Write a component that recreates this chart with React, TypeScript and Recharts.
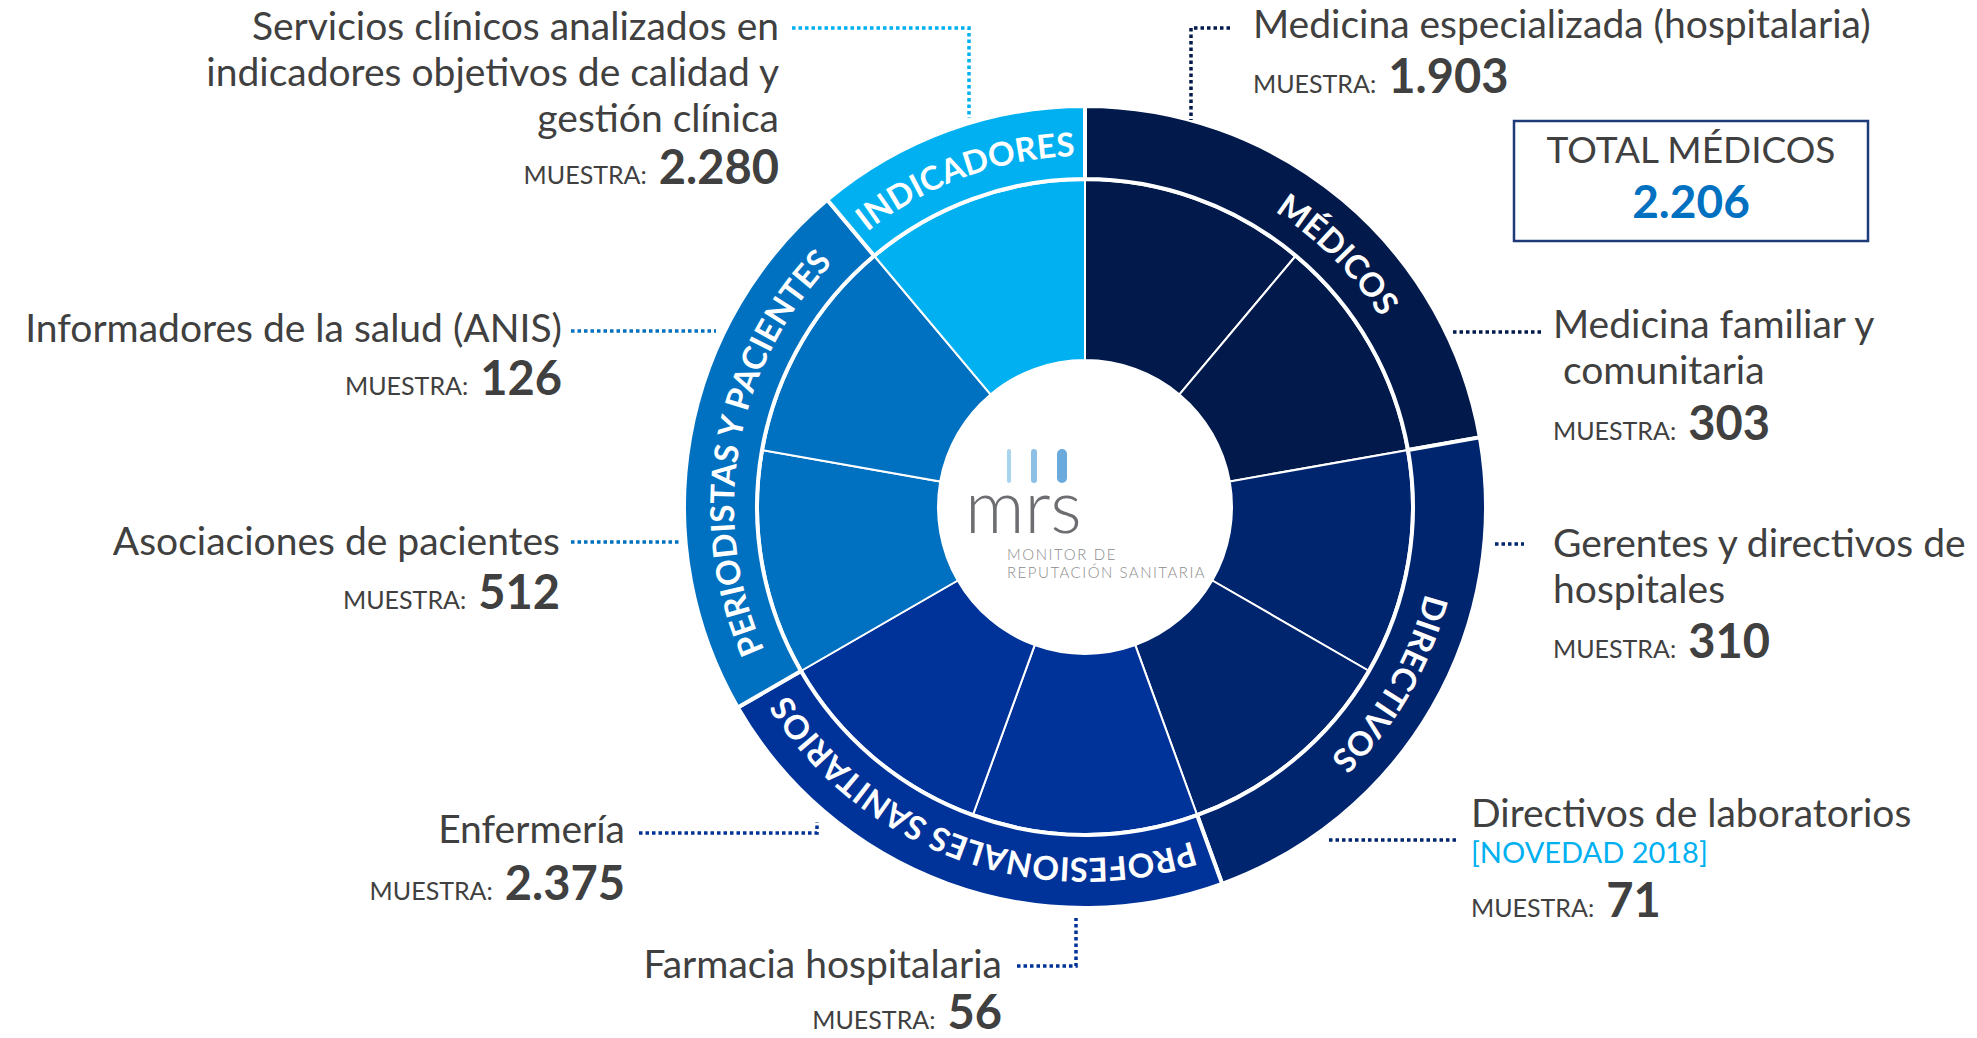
import React from 'react';
import { PieChart, Pie, Cell } from 'recharts';

// inner ring: one equal sector per surveyed group, clockwise from 12 o'clock
const segmentNames = [
  'Medicina especializada (hospitalaria)',
  'Medicina familiar y\n comunitaria',
  'Gerentes y directivos de\nhospitales',
  'Directivos de laboratorios',
  'Farmacia hospitalaria',
  'Enfermería',
  'Asociaciones de pacientes',
  'Informadores de la salud (ANIS)',
  'Servicios clínicos analizados en\nindicadores objetivos de calidad y\ngestión clínica',
];
const segmentGroups = [
  'MÉDICOS', 'MÉDICOS', 'DIRECTIVOS', 'DIRECTIVOS',
  'PROFESIONALES SANITARIOS', 'PROFESIONALES SANITARIOS',
  'PERIODISTAS Y PACIENTES', 'PERIODISTAS Y PACIENTES', 'INDICADORES',
];
const segmentSamples = [1903, 303, 310, 71, 56, 2375, 512, 126, 2280];
const segmentNotes = ['', '', '', '[NOVEDAD 2018]', '', '', '', '', ''];

// outer ring
const groupNames = ['MÉDICOS', 'DIRECTIVOS', 'PROFESIONALES SANITARIOS', 'PERIODISTAS Y PACIENTES', 'INDICADORES'];

const sampleLabel = 'MUESTRA:';
const totalGroup = 'MÉDICOS';
const totalLabel = 'TOTAL MÉDICOS';

const groupColors: Record<string, string> = {
  'MÉDICOS': '#021a4b',
  'DIRECTIVOS': '#00256f',
  'PROFESIONALES SANITARIOS': '#003399',
  'PERIODISTAS Y PACIENTES': '#0070c0',
  'INDICADORES': '#00b0f0',
};
const groupLabelShift: Record<string, number> = { 'MÉDICOS': -5 };

// where each callout sits on the page
type Callout = { anchor: 'start' | 'end'; x: number; y: number; sampleY: number; noteY?: number; leader: number[][] };
const callouts: Callout[] = [
  { anchor: 'start', x: 1253, y: 38, sampleY: 93, leader: [[1230, 28], [1191, 28], [1191, 120]] },
  { anchor: 'start', x: 1553, y: 338, sampleY: 440, leader: [[1453, 332], [1543, 332]] },
  { anchor: 'start', x: 1553, y: 557, sampleY: 658, leader: [[1495, 544], [1524, 544]] },
  { anchor: 'start', x: 1471, y: 827, noteY: 863, sampleY: 917, leader: [[1329, 840], [1459, 840]] },
  { anchor: 'end', x: 1002, y: 978, sampleY: 1029, leader: [[1017, 966], [1076, 966], [1076, 918]] },
  { anchor: 'end', x: 625, y: 843, sampleY: 900, leader: [[639, 833], [817, 833], [817, 822]] },
  { anchor: 'end', x: 560, y: 555, sampleY: 609, leader: [[571, 542], [679, 542]] },
  { anchor: 'end', x: 562, y: 342, sampleY: 395, leader: [[571, 331], [716, 331]] },
  { anchor: 'end', x: 779, y: 40, sampleY: 184, leader: [[792, 28], [969, 28], [969, 118]] },
];

const W = 1977;
const H = 1038;
const CX = 1085;
const CY = 507;
const FONT = 'Lato, "Open Sans", sans-serif';
const TEXT = '#404040';
const RAD = Math.PI / 180;

const fmt = (n: number) => String(n).replace(/\B(?=(\d{3})+(?!\d))/g, '.');

const segmentData = segmentNames.map((name, i) => ({
  name,
  group: segmentGroups[i],
  sample: segmentSamples[i],
  weight: 1,
}));
const groupData = groupNames.map((name) => ({
  name,
  weight: segmentGroups.filter((g) => g === name).length,
}));
const totalValue = segmentSamples.reduce((s, v, i) => (segmentGroups[i] === totalGroup ? s + v : s), 0);

function renderCallout(props: any) {
  const i: number = props.index ?? segmentNames.indexOf(props.name);
  const c = callouts[i];
  if (!c) return null;
  const lines = segmentNames[i].split('\n');
  const color = groupColors[segmentGroups[i]];
  return (
    <g key={`callout-${i}`}>
      <polyline
        points={c.leader.map((p) => p.join(',')).join(' ')}
        fill="none"
        stroke={color}
        strokeWidth={3.5}
        strokeDasharray="3.5 3"
      />
      {lines.map((line, k) => (
        <text key={k} x={c.x} y={c.y + k * 46} textAnchor={c.anchor} fontFamily={FONT} fontSize={39} fill={TEXT} style={{ whiteSpace: 'pre' }}>
          {line}
        </text>
      ))}
      {segmentNotes[i] && (
        <text x={c.x} y={c.noteY} textAnchor={c.anchor} fontFamily={FONT} fontSize={29} fill="#00b0f0">
          {segmentNotes[i]}
        </text>
      )}
      <text x={c.x} y={c.sampleY} textAnchor={c.anchor} fontFamily={FONT} fill={TEXT}>
        <tspan fontSize={25}>{sampleLabel}</tspan>
        <tspan dx={12} fontSize={47} fontWeight={700}>{fmt(segmentSamples[i])}</tspan>
      </text>
    </g>
  );
}

function renderGroupLabel(props: any) {
  const { cx, cy, midAngle } = props;
  const i: number = props.index ?? groupNames.indexOf(props.name);
  const name = groupNames[i];
  const mid = midAngle + (groupLabelShift[name] ?? 0);
  const r = 351;
  const pt = (a: number) => [cx + r * Math.cos(a * RAD), cy - r * Math.sin(a * RAD)];
  const [x1, y1] = pt(mid + 90);
  const [x2, y2] = pt(mid - 90);
  const id = `group-arc-${i}`;
  return (
    <g key={id}>
      <path id={id} d={`M${x1},${y1} A${r},${r} 0 0 1 ${x2},${y2}`} fill="none" stroke="none" />
      <text fill="#ffffff" fontFamily={FONT} fontSize={33} fontWeight={700} textAnchor="middle">
        <textPath href={`#${id}`} startOffset="50%">
          {name}
        </textPath>
      </text>
    </g>
  );
}

export default function App() {
  return (
    <div style={{ position: 'absolute', left: 0, top: 0, width: W, height: H, background: '#fff' }}>
      <PieChart width={W} height={H} margin={{ top: 0, right: 0, bottom: 0, left: 0 }}>
        <Pie
          data={segmentData}
          dataKey="weight"
          nameKey="name"
          cx={CX}
          cy={CY}
          startAngle={90}
          endAngle={-270}
          innerRadius={147}
          outerRadius={327}
          stroke="#ffffff"
          strokeWidth={2}
          label={renderCallout}
          labelLine={false}
          isAnimationActive={false}
        >
          {segmentData.map((d, i) => (
            <Cell key={i} fill={groupColors[d.group]} />
          ))}
        </Pie>
        <Pie
          data={groupData}
          dataKey="weight"
          nameKey="name"
          cx={CX}
          cy={CY}
          startAngle={90}
          endAngle={-270}
          innerRadius={328}
          outerRadius={401}
          stroke="#ffffff"
          strokeWidth={4}
          label={renderGroupLabel}
          labelLine={false}
          isAnimationActive={false}
        >
          {groupData.map((d, i) => (
            <Cell key={i} fill={groupColors[d.name]} />
          ))}
        </Pie>
      </PieChart>

      <svg width={W} height={H} style={{ position: 'absolute', left: 0, top: 0, pointerEvents: 'none' }}>
        {/* total box */}
        <rect x={1514} y={121} width={354} height={120} fill="#fff" stroke="#1f3a78" strokeWidth={2.5} />
        <text x={1691} y={163} textAnchor="middle" fontFamily={FONT} fontSize={37} fill={TEXT}>
          {totalLabel}
        </text>
        <text x={1691} y={218} textAnchor="middle" fontFamily={FONT} fontSize={46} fontWeight={700} fill="#0070c0">
          {fmt(totalValue)}
        </text>

        {/* centre logo */}
        <rect x={1007} y={449} width={4} height={34} rx={2} fill="#a9d4ee" />
        <rect x={1031} y={449} width={6} height={34} rx={3} fill="#8cc0e4" />
        <rect x={1057} y={449} width={10} height={34} rx={5} fill="#6aaadc" />
        <text x={965} y={533} fontFamily={FONT} fontSize={74} fontWeight={300} fill="#6d6e71">
          mrs
        </text>
        <text x={1007} y={560} fontFamily={FONT} fontSize={15} fontWeight={300} letterSpacing={1.6} fill="#8c8c8c">
          MONITOR DE
        </text>
        <text x={1007} y={578} fontFamily={FONT} fontSize={15} fontWeight={300} letterSpacing={1.5} fill="#8c8c8c">
          REPUTACIÓN SANITARIA
        </text>
      </svg>
    </div>
  );
}
